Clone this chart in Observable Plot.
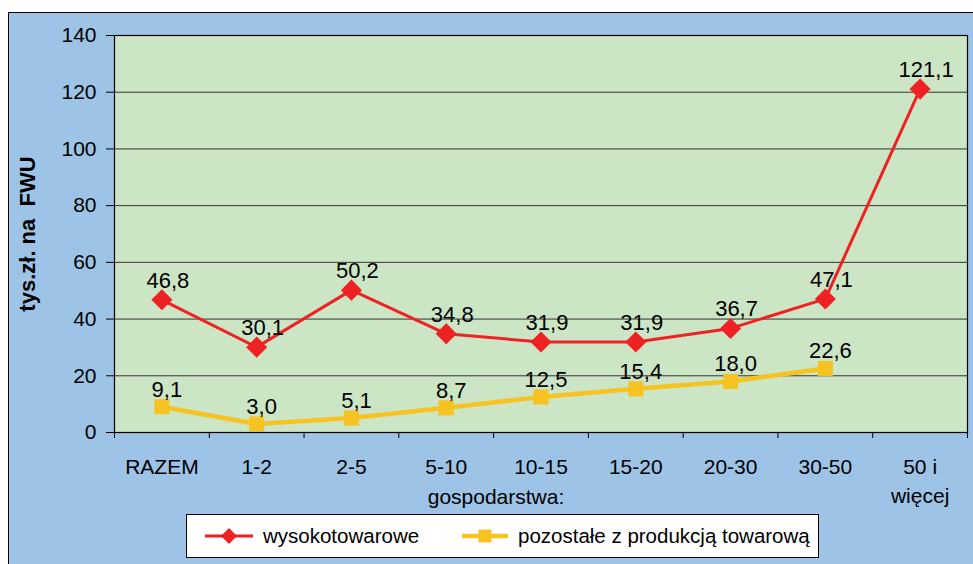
<!DOCTYPE html>
<html>
<head>
<meta charset="utf-8">
<script src="https://cdn.jsdelivr.net/npm/d3@7"></script>
<script src="https://cdn.jsdelivr.net/npm/@observablehq/plot@0.6"></script>
<style>
  html, body { margin: 0; padding: 0; background: #ffffff; }
  #wrap { position: relative; width: 973px; height: 564px; overflow: hidden; font-family: "Liberation Sans", Arial, sans-serif; }
  #panel { position: absolute; left: 8px; top: 12px; width: 970px; height: 560px; background: #9DC3E6; border-left: 1.5px solid #000; border-top: 1.5px solid #000; }
  #chart { position: absolute; left: 0; top: 0; }
  #legend { position: absolute; left: 186px; top: 514px; width: 631px; height: 42px; background: #fff; border: 1px solid #000; }
  .item { position: absolute; top: 0; height: 42px; display: flex; align-items: center; font-size: 20.5px; color: #000; }
  .item svg { margin-right: 10px; }
</style>
</head>
<body>
<div id="wrap">
  <div id="panel"></div>
  <div id="chart"></div>
  <div id="legend"></div>
</div>
<script>
const categories = ["RAZEM", "1-2", "2-5", "5-10", "10-15", "15-20", "20-30", "30-50", "50 i\nwięcej"];
const wysokotowarowe = [46.8, 30.1, 50.2, 34.8, 31.9, 31.9, 36.7, 47.1, 121.1];
const pozostale = [9.1, 3.0, 5.1, 8.7, 12.5, 15.4, 18.0, 22.6, null];
const yTicks = [0, 20, 40, 60, 80, 100, 120, 140];
const seriesNames = ["wysokotowarowe", "pozostałe z produkcją towarową"];
const yLabel = "tys.zł. na  FWU";
const xLabel = "gospodarstwa:";

const RED = "#EE2222";
const YELLOW = "#F6C322";
const GREEN = "#CCE5C5";

const fmt = v => v.toFixed(1).replace(".", ",");
const redRows = categories.map((c, i) => ({i, c, v: wysokotowarowe[i]}));
const yelRows = categories.map((c, i) => ({i, c, v: pozostale[i]})).filter(d => d.v != null);
const catRows = categories.map((c, i) => ({i, c}));
const boundaries = d3.range(categories.length + 1);

const plot = Plot.plot({
  width: 973,
  height: 564,
  marginLeft: 114,
  marginRight: 6,
  marginTop: 35,
  marginBottom: 132,
  style: {background: "transparent", fontSize: "21px", fontFamily: "'Liberation Sans', Arial, sans-serif", overflow: "visible"},
  x: {type: "linear", domain: [0, categories.length]},
  y: {domain: [0, 140]},
  marks: [
    Plot.frame({fill: GREEN}),
    Plot.ruleY(yTicks, {stroke: "#333", strokeWidth: 1}),
    Plot.axisY({ticks: yTicks, tickSize: 8, tickPadding: 10, label: null, stroke: "#000"}),
    Plot.axisX({ticks: boundaries, tickSize: 6, tickFormat: () => "", label: null, stroke: "#000"}),
    Plot.text(catRows, {x: d => d.i + 0.5, y: () => 0, text: "c", lineAnchor: "top", lineHeight: 1.38, dy: 21, fill: "#000"}),
    Plot.text([xLabel], {frameAnchor: "bottom", text: d => d, dx: -45, dy: 71, lineAnchor: "bottom", fill: "#000"}),
    Plot.text([yLabel], {frameAnchor: "left", textAnchor: "middle", text: d => d, rotate: -90, dx: -87, fontWeight: "bold", fontSize: 22, fill: "#000"}),
    Plot.line(yelRows, {x: d => d.i + 0.5, y: "v", stroke: YELLOW, strokeWidth: 4.5}),
    Plot.dot(yelRows, {x: d => d.i + 0.5, y: "v", symbol: "square", r: 8.5, fill: YELLOW, stroke: "none"}),
    Plot.line(redRows, {x: d => d.i + 0.5, y: "v", stroke: RED, strokeWidth: 3}),
    Plot.dot(redRows, {x: d => d.i + 0.5, y: "v", symbol: "diamond2", r: 9.5, fill: RED, stroke: "none"}),
    Plot.text(redRows, {x: d => d.i + 0.5, y: "v", text: d => fmt(d.v), lineAnchor: "bottom", dy: -12, dx: 6, fontSize: 22, fill: "#000"}),
    Plot.text(yelRows, {x: d => d.i + 0.5, y: "v", text: d => fmt(d.v), lineAnchor: "bottom", dy: -10, dx: 5, fontSize: 22, fill: "#000"}),
    Plot.frame({stroke: "#000", strokeWidth: 1.2})
  ]
});
document.getElementById("chart").appendChild(plot);

const legend = document.getElementById("legend");
legend.innerHTML = `
  <div class="item" style="left:18px">
    <svg width="48" height="20" viewBox="0 0 48 20">
      <line x1="0" y1="10" x2="48" y2="10" stroke="${RED}" stroke-width="3"/>
      <path d="M24,2 L32,10 L24,18 L16,10 Z" fill="${RED}"/>
    </svg><span>${seriesNames[0]}</span>
  </div>
  <div class="item" style="left:275px">
    <svg width="46" height="20" viewBox="0 0 46 20">
      <line x1="0" y1="10" x2="46" y2="10" stroke="${YELLOW}" stroke-width="4.5"/>
      <rect x="16.5" y="3.5" width="13" height="13" fill="${YELLOW}"/>
    </svg><span>${seriesNames[1]}</span>
  </div>`;
</script>
</body>
</html>
